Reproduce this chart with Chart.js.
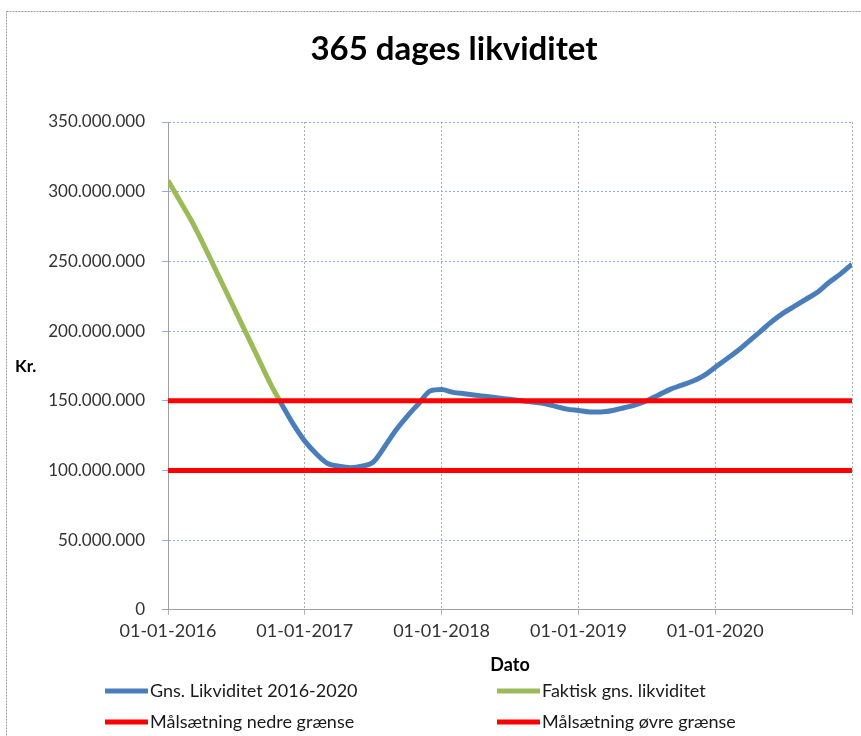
<!DOCTYPE html>
<html>
<head>
<meta charset="utf-8">
<script src="https://cdn.jsdelivr.net/npm/chart.js@4/dist/chart.umd.min.js"></script>
<style>
  html, body { margin: 0; padding: 0; background: #fff; }
  #wrap { width: 861px; height: 736px; position: relative; }
</style>
</head>
<body>
<div id="wrap"><canvas id="chart" width="861" height="736"></canvas></div>
<script>
// x values are months after 01-01-2016
const chartTitle = '365 dages likviditet';
const xTickLabels = ['01-01-2016', '01-01-2017', '01-01-2018', '01-01-2019', '01-01-2020', ''];

const faktiskMonths = [0, 1, 2, 3, 4, 5, 6, 7, 8, 9, 9.8];
const faktiskValues = [308, 294, 280, 264, 247, 230, 213, 196, 179, 162, 150];

const gnsMonths = [9.8, 10.5, 11, 12, 13, 14, 15, 16, 17, 18, 19, 20, 21, 22, 23, 24, 25, 26, 27, 28, 29, 30,
  31, 32, 33, 34, 35, 36, 37, 38, 39, 40, 41, 42, 43, 44, 45, 46, 47, 48, 49, 50, 51, 52, 53, 54, 55, 56, 57, 58, 59, 60];
const gnsValues = [150, 140, 133, 121, 112, 105, 103, 102, 103, 106, 117, 129, 139, 148, 157, 158, 156, 155, 154, 153, 152, 151,
  150, 149, 148, 146, 144, 143, 142, 142, 143, 145, 147, 150, 154, 158, 161, 164, 168, 174, 180, 186, 193, 200, 207, 213, 218, 223, 228, 235, 241, 248];

const graenseMonths = [0, 60];
const nedreValues = [100, 100];
const oevreValues = [150, 150];

const MIO = 1000000;
function pts(xs, ys) { return xs.map((x, i) => ({ x: x, y: ys[i] * MIO })); }
function fmt(v) { return String(Math.round(v)).replace(/\B(?=(\d{3})+(?!\d))/g, '.'); }

const FONT = 'Lato, "Liberation Sans", sans-serif';

const framePlugin = {
  id: 'frame',
  beforeDraw(chart) {
    const ctx = chart.ctx;
    ctx.save();
    ctx.strokeStyle = '#9a9a9a';
    ctx.lineWidth = 1;
    ctx.setLineDash([2, 1]);
    ctx.strokeRect(6.5, 11.5, 900, 800);
    ctx.restore();
  },
  afterDraw(chart) {
    const ctx = chart.ctx;
    ctx.save();
    // title, centred on the whole frame like in the original
    ctx.fillStyle = '#000';
    ctx.textBaseline = 'middle';
    ctx.textAlign = 'center';
    ctx.font = 'bold 33px ' + FONT;
    ctx.fillText(chartTitle, 454, 49);
    // y axis title, horizontal
    ctx.textAlign = 'left';
    ctx.font = 'bold 17px ' + FONT;
    ctx.fillText('Kr.', 15, 367);
    // two column legend
    const colX = [105, 497];
    const rowY = [691, 722];
    ctx.font = '18px ' + FONT;
    chart.data.datasets.forEach((ds, i) => {
      const x0 = colX[i % 2];
      const y = rowY[Math.floor(i / 2)];
      ctx.strokeStyle = ds.borderColor;
      ctx.lineWidth = 5;
      ctx.beginPath();
      ctx.moveTo(x0, y);
      ctx.lineTo(x0 + 43, y);
      ctx.stroke();
      ctx.fillStyle = '#1a1a1a';
      ctx.fillText(ds.label, x0 + 45, y);
    });
    ctx.restore();
  }
};

new Chart(document.getElementById('chart'), {
  type: 'line',
  data: {
    datasets: [
      { label: 'Gns. Likviditet 2016-2020', data: pts(gnsMonths, gnsValues), borderColor: '#4a7ebb', borderWidth: 5, order: 3 },
      { label: 'Faktisk gns. likviditet', data: pts(faktiskMonths, faktiskValues), borderColor: '#9bbb59', borderWidth: 5, order: 2 },
      { label: 'Målsætning nedre grænse', data: pts(graenseMonths, nedreValues), borderColor: '#ff0000', borderWidth: 5, order: 1 },
      { label: 'Målsætning øvre grænse', data: pts(graenseMonths, oevreValues), borderColor: '#ff0000', borderWidth: 5, order: 1 }
    ]
  },
  options: {
    responsive: false,
    animation: false,
    elements: { point: { radius: 0 }, line: { tension: 0.3, cubicInterpolationMode: 'monotone' } },
    layout: { padding: { left: 0, right: 9, top: 122, bottom: 60 } },
    plugins: {
      legend: { display: false },
      tooltip: { enabled: false },
      title: { display: false }
    },
    scales: {
      x: {
        type: 'linear',
        min: 0,
        max: 60,
        afterBuildTicks(axis) { axis.ticks = [0, 12, 24, 36, 48, 60].map(v => ({ value: v })); },
        ticks: {
          callback: v => xTickLabels[v / 12],
          color: '#333',
          font: { family: FONT, size: 18 },
          padding: 6,
          maxRotation: 0
        },
        grid: { color: '#b0b0b0', tickLength: 5 },
        border: { color: '#a0a0a0', dash: [2, 2] },
        title: { display: true, text: 'Dato', color: '#000', font: { family: FONT, size: 18, weight: 'bold' }, padding: { top: 6, bottom: 0 } }
      },
      y: {
        min: 0,
        max: 350 * MIO,
        afterBuildTicks(axis) { axis.ticks = [0, 50, 100, 150, 200, 250, 300, 350].map(v => ({ value: v * MIO })); },
        afterFit(axis) { axis.width = 168; },
        ticks: {
          callback: v => fmt(v),
          color: '#333',
          font: { family: FONT, size: 17 },
          padding: 17
        },
        grid: {
          color: ctx => ctx.tick && ctx.tick.value === 0 ? '#a0a0a0' : '#8eaee0',
          tickLength: 6
        },
        border: { color: '#a0a0a0', dash: [2, 2] }
      }
    }
  },
  plugins: [framePlugin]
});
</script>
</body>
</html>
